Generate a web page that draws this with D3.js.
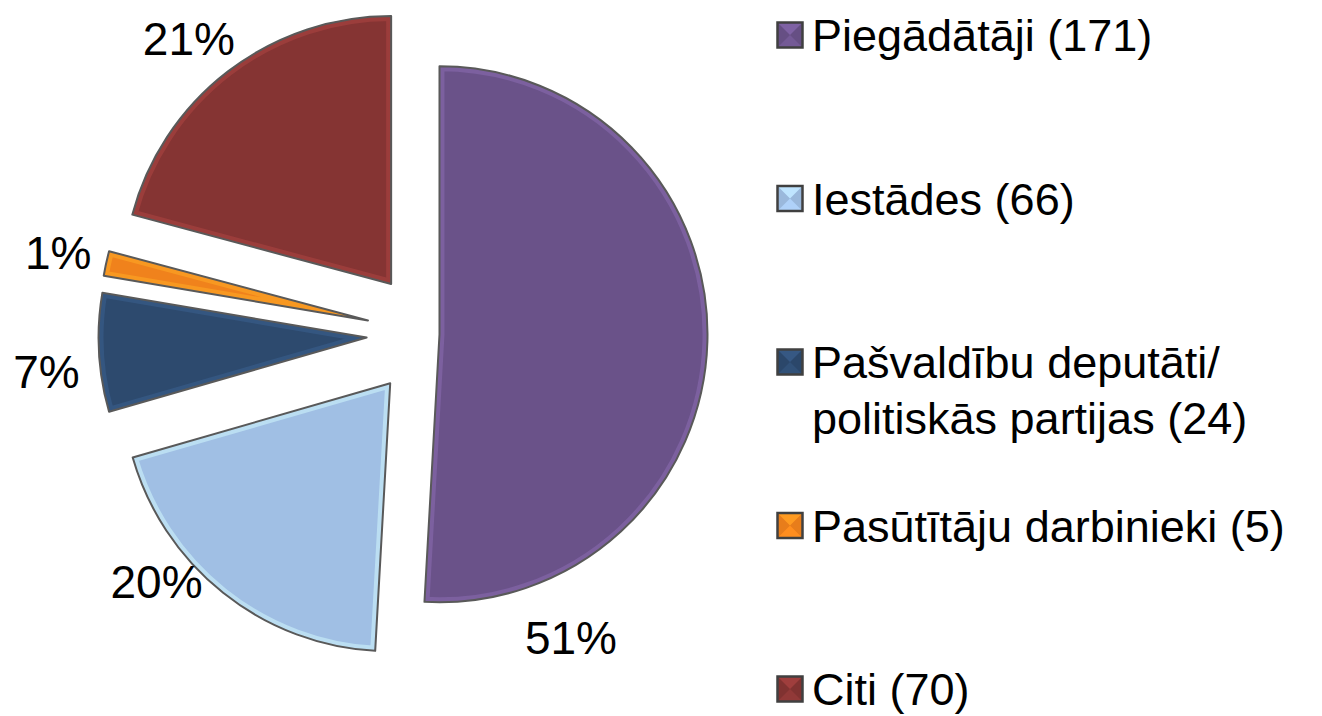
<!DOCTYPE html>
<html>
<head>
<meta charset="utf-8">
<script src="https://cdn.jsdelivr.net/npm/d3@7"></script>
<style>
  body { margin: 0; background: #fff; }
  text { font-family: "Liberation Sans", Arial, sans-serif; }
</style>
</head>
<body>
<div id="chart"></div>
<script>
// data
var categories = ['Piegādātāji', 'Iestādes', 'Pašvaldību deputāti/ politiskās partijas', 'Pasūtītāju darbinieki', 'Citi'];
var counts = [171, 66, 24, 5, 70];
var legendLines = [
    ['Piegādātāji (171)'],
    ['Iestādes (66)'],
    ['Pašvaldību deputāti/', 'politiskās partijas (24)'],
    ['Pasūtītāju darbinieki (5)'],
    ['Citi (70)']
];
var colors = ['#6a5289', '#a0bfe4', '#2d4a6e', '#f0821c', '#853433'];

// layout
var width = 1322, height = 716;
var cx = 429.5, cy = 334, radius = 268;
var explode = [10, 63, 63, 63, 63];
var labelShift = [65, 11, -3, 0, -2];   // degrees, label position tweak (excel best fit)
var labelDist = [331, 307, 322, 317, 318];

var svg = d3.select('#chart')
    .append('svg')
    .attr('width', width)
    .attr('height', height);

var total = d3.sum(counts);

var pie = d3.pie()
    .sort(null)
    .value(function(d) { return d; });

var arc = d3.arc()
    .innerRadius(0)
    .outerRadius(radius);

var slices = pie(counts);

function mid(d) { return (d.startAngle + d.endAngle) / 2; }

var defs = svg.append('defs');

var pieG = svg.append('g')
    .attr('transform', 'translate(' + cx + ',' + cy + ')');

var sliceG = pieG.selectAll('g.slice')
    .data(slices)
    .enter()
    .append('g')
    .attr('class', 'slice')
    .attr('transform', function(d, i) {
        var a = mid(d);
        return 'translate(' + (Math.sin(a) * explode[i]) + ',' + (-Math.cos(a) * explode[i]) + ')';
    });

sliceG.each(function(d, i) {
    defs.append('clipPath')
        .attr('id', 'clip' + i)
        .append('path')
        .attr('d', arc(d));
});

sliceG.append('path')
    .attr('d', arc)
    .attr('fill', function(d, i) { return colors[i]; });

// soft bevel
sliceG.append('path')
    .attr('d', arc)
    .attr('fill', 'none')
    .attr('stroke', function(d, i) { return d3.color(colors[i]).brighter(0.8); })
    .attr('stroke-width', 10)
    .attr('stroke-opacity', 0.5)
    .attr('clip-path', function(d, i) { return 'url(#clip' + i + ')'; });

sliceG.append('path')
    .attr('d', arc)
    .attr('fill', 'none')
    .attr('stroke', '#595959')
    .attr('stroke-width', 2)
    .attr('stroke-linejoin', 'round');

// percent labels
pieG.selectAll('text.pct')
    .data(slices)
    .enter()
    .append('text')
    .attr('class', 'pct')
    .attr('x', function(d, i) {
        var a = mid(d);
        var b = a + labelShift[i] * Math.PI / 180;
        return Math.sin(a) * explode[i] + Math.sin(b) * labelDist[i];
    })
    .attr('y', function(d, i) {
        var a = mid(d);
        var b = a + labelShift[i] * Math.PI / 180;
        return -Math.cos(a) * explode[i] - Math.cos(b) * labelDist[i];
    })
    .attr('dy', '0.35em')
    .attr('text-anchor', 'middle')
    .style('font-size', '46px')
    .attr('fill', '#000')
    .text(function(d) { return Math.round(d.data / total * 100) + '%'; });

// legend
var ly = d3.scalePoint()
    .domain(categories)
    .range([51, 705]);

var legend = svg.append('g')
    .attr('transform', 'translate(777,0)');

var item = legend.selectAll('g.item')
    .data(categories)
    .enter()
    .append('g')
    .attr('class', 'item')
    .attr('transform', function(d) { return 'translate(0,' + ly(d) + ')'; });

var s = 26;
item.each(function(d, i) {
    var g = d3.select(this).append('g').attr('transform', 'translate(0,' + (-29) + ')');
    var c = d3.color(colors[i]);
    g.append('rect')
        .attr('width', s).attr('height', s)
        .attr('fill', c.darker(0.1));
    var tris = [
        [[0, 0], [s, 0], [s / 2, s / 2], c.brighter(0.5)],
        [[s, s], [0, s], [s / 2, s / 2], c.brighter(0.25)]
    ];
    tris.forEach(function(t) {
        g.append('path')
            .attr('d', 'M' + t[0] + 'L' + t[1] + 'L' + t[2] + 'Z')
            .attr('fill', t[3]);
    });
    g.append('rect')
        .attr('x', 0.5).attr('y', 0.5)
        .attr('width', s - 1).attr('height', s - 1)
        .attr('fill', 'none')
        .attr('stroke', '#404040')
        .attr('stroke-width', 2.5);
});

item.append('text')
    .attr('x', 35)
    .style('font-size', '45px')
    .attr('fill', '#000')
    .selectAll('tspan')
    .data(function(d, i) { return legendLines[i]; })
    .enter()
    .append('tspan')
    .attr('x', 35)
    .attr('dy', function(d, j) { return j == 0 ? 0 : 56; })
    .text(function(d) { return d; });
</script>
</body>
</html>
